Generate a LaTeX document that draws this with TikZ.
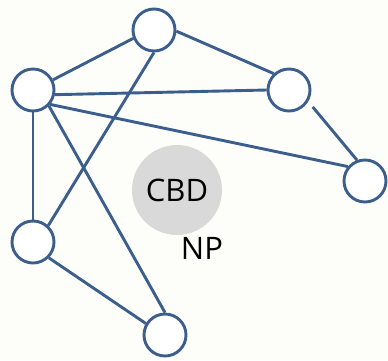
\documentclass[tikz,border=0pt]{standalone}
\usepackage{fontspec}
\setmainfont{Open Sans}
\definecolor{edgeblue}{RGB}{59,94,140}
\definecolor{hubgray}{RGB}{217,217,217}
\definecolor{paper}{RGB}{253,253,249}
\begin{document}
\begin{tikzpicture}[x=1pt,y=-1pt,
  vertex/.style={circle,draw=edgeblue,line width=2.9pt,fill=white,minimum size=42pt,inner sep=0pt},
  link/.style={draw=edgeblue,line width=2.9pt},
  bigtext/.style={font=\fontsize{31}{36}\selectfont},
  hub/.style={circle,fill=hubgray,minimum size=90pt,inner sep=0pt,bigtext}]
  \fill[paper] (0,0) rectangle (388,360);
  \useasboundingbox (0,0) rectangle (388,360);
  % hub and its caption
  \node[hub] (cbd) at (177,190) {CBD};
  \node[bigtext] (np) at (202,248) {NP};
  % vertices
  \node[vertex] (a) at (154,30) {};
  \node[vertex] (b) at (33,90) {};
  \node[vertex] (c) at (289,90) {};
  \node[vertex] (d) at (365,181) {};
  \node[vertex] (e) at (33,242) {};
  \node[vertex] (f) at (165,335) {};
  % connections
  \draw[link] (b.27) -- (a.202);
  \draw[link] (a.-3) -- (c.133);
  \draw[link] (a.-90) -- (e.47);
  \draw[link] (b.-12) -- (c.180);
  \draw[link] (b.-40) -- (d.140);
  \draw[link] (b.-90) -- (e.90);
  \draw[link] (b.-45) -- (f.90);
  \draw[link] (e.-45) -- (f.149);
  \draw[link,shorten <=7pt] (c.-31) -- (d.111);
\end{tikzpicture}
\end{document}
